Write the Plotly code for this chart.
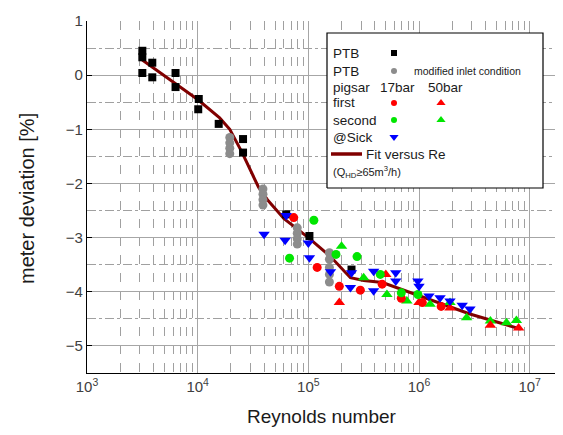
import plotly.graph_objects as go

# ---------------- data ----------------
ptb_re = [3162, 3162, 3162, 3890, 3890, 6310, 6310, 10230, 10120, 15490, 25700, 25700, 63100, 102300, 245500]
ptb_dev = [0.45, 0.33, 0.04, 0.23, -0.04, 0.04, -0.22, -0.44, -0.63, -0.90, -1.18, -1.43, -2.57, -2.97, -3.59]

ptbmod_re = [19500, 19500, 19500, 19500, 38900, 38900, 38900, 38900, 79400, 79400, 79400, 79400,
             155000, 155000, 155000, 155000, 155000]
ptbmod_dev = [-1.15, -1.25, -1.35, -1.45, -2.10, -2.20, -2.30, -2.40, -2.82, -2.92, -3.02, -3.12,
              -3.28, -3.40, -3.55, -3.68, -3.82]

first17_re = [73800, 120200, 190500, 295100, 464500, 691800, 1071500, 1585000]
first17_dev = [-2.63, -3.55, -3.90, -3.97, -3.86, -4.12, -4.20, -4.27]

second17_re = [67600, 112200, 177800, 275400, 446700, 691800, 977200]
second17_dev = [-3.38, -2.68, -3.31, -3.35, -3.68, -4.02, -4.05]

first50_re = [190500, 501200, 1000000, 1905000, 4416000, 7943000]
first50_dev = [-4.20, -3.68, -4.20, -4.30, -4.62, -4.67]

second50_re = [199500, 316200, 512900, 776200, 1259000, 1905000, 2692000, 4416000, 6166000, 7586000]
second50_dev = [-3.16, -3.74, -4.05, -4.17, -4.23, -4.20, -4.48, -4.54, -4.57, -4.53]

sick_re = [39800, 61700, 63100, 100000, 102300, 158500, 239900, 245500, 389000, 389000,
           616600, 616600, 977200, 1000000, 1230000, 1549000, 1905000, 2455000, 2884000]
sick_dev = [-2.94, -3.05, -2.59, -3.10, -3.37, -3.63, -3.92, -3.65, -3.62, -3.98,
            -3.65, -3.80, -3.80, -3.90, -4.08, -4.11, -4.17, -4.25, -4.32]

fit_re = [3162, 10000, 15800, 19500, 25100, 35480, 42660, 60260, 100000, 158500, 239900,
          316200, 467700, 1259000, 2884000, 8318000]
fit_dev = [0.28, -0.45, -0.79, -1.00, -1.42, -2.07, -2.30, -2.65, -3.00, -3.35, -3.74,
           -3.79, -3.83, -4.14, -4.41, -4.69]

x_tickvals = [1e3, 1e4, 1e5, 1e6, 1e7]
x_ticktext = ["10<sup>3</sup>", "10<sup>4</sup>", "10<sup>5</sup>", "10<sup>6</sup>", "10<sup>7</sup>"]
y_tickvals = [1, 0, -1, -2, -3, -4, -5]

RED = "#ff0000"
GREEN = "#00e600"
BLUE = "#0000ff"
GRAY = "#8c8c8c"
FIT = "#800000"
FONT = "Arial, Liberation Sans, sans-serif"

fig = go.Figure()

fig.add_trace(go.Scatter(x=fit_re, y=fit_dev, mode="lines", line=dict(color=FIT, width=3)))
fig.add_trace(go.Scatter(x=ptbmod_re, y=ptbmod_dev, mode="markers",
                         marker=dict(symbol="circle", size=9, color=GRAY)))
fig.add_trace(go.Scatter(x=ptb_re, y=ptb_dev, mode="markers",
                         marker=dict(symbol="square", size=8, color="black")))
fig.add_trace(go.Scatter(x=second50_re, y=second50_dev, mode="markers",
                         marker=dict(symbol="triangle-up", size=10, color=GREEN)))
fig.add_trace(go.Scatter(x=first50_re, y=first50_dev, mode="markers",
                         marker=dict(symbol="triangle-up", size=10, color=RED)))
fig.add_trace(go.Scatter(x=first17_re, y=first17_dev, mode="markers",
                         marker=dict(symbol="circle", size=9, color=RED)))
fig.add_trace(go.Scatter(x=second17_re, y=second17_dev, mode="markers",
                         marker=dict(symbol="circle", size=9, color=GREEN)))
fig.add_trace(go.Scatter(x=sick_re, y=sick_dev, mode="markers",
                         marker=dict(symbol="triangle-down", size=10, color=BLUE)))

# ---------------- custom legend ----------------
# page offset of the plot div (default body margin)
OFF = 8
W, H = 563 - OFF, 435 - OFF
# plot area in page pixels: left 87, right 562, top 21, bottom 373
L, R, T, B = 87, 562, 21, 373
def px(xp):
    return (xp - L) / (R - L)
def py(yp):
    return (B - yp) / (B - T)

# white legend box (trace on overlay axes, so it hides the gridlines)
bx0, bx1, by0, by1 = px(327), px(543), py(188), py(33)
fig.add_trace(go.Scatter(x=[bx0, bx1, bx1, bx0, bx0], y=[by0, by0, by1, by1, by0], mode="lines",
                         fill="toself", fillcolor="white", line=dict(color="black", width=1.2),
                         xaxis="x2", yaxis="y2"))

legend_glyphs = [
    (394, 53, "square", "black", 6),
    (394, 71, "circle", GRAY, 6),
    (394, 103, "circle", RED, 6),
    (441, 103, "triangle-up", RED, 8),
    (394, 120, "circle", GREEN, 6),
    (441, 120, "triangle-up", GREEN, 8),
    (394, 137, "triangle-down", BLUE, 8),
]
for gx, gy, sym, col, sz in legend_glyphs:
    fig.add_trace(go.Scatter(x=[px(gx)], y=[py(gy)], mode="markers", xaxis="x2", yaxis="y2",
                             marker=dict(symbol=sym, size=sz, color=col)))
fig.add_trace(go.Scatter(x=[px(331), px(362)], y=[py(154), py(154)], mode="lines", xaxis="x2", yaxis="y2",
                         line=dict(color=FIT, width=3.5)))

legend_texts = [
    (331, 53, "PTB", 13.5),
    (331, 71, "PTB", 13.5),
    (331, 87, "pigsar", 13.5),
    (378, 87, "17bar", 13.5),
    (426, 87, "50bar", 13.5),
    (331, 103, "first", 13.5),
    (331, 120, "second", 13.5),
    (331, 137, "@Sick", 13.5),
    (364, 154, "Fit versus Re", 13.5),
    (412, 71, "modified inlet condition", 10.5),
    (331, 172, "(Q<sub>HD</sub>≥65m<sup>3</sup>/h)", 11),
]
for tx, ty, txt, fs in legend_texts:
    fig.add_annotation(x=px(tx), y=py(ty), xref="paper", yref="paper", text=txt, showarrow=False,
                       xanchor="left", yanchor="middle", font=dict(family=FONT, size=fs, color="#1a1a1a"))

# axis titles
fig.add_annotation(x=px(322), y=py(416), xref="paper", yref="paper", text="Reynolds number",
                   showarrow=False, xanchor="center", yanchor="middle",
                   font=dict(family=FONT, size=19, color="#1a1a1a"))
fig.add_annotation(x=px(27), y=py(199), xref="paper", yref="paper", text="meter deviation [%]",
                   showarrow=False, xanchor="center", yanchor="middle", textangle=-90,
                   font=dict(family=FONT, size=20, color="#1a1a1a"))

fig.update_layout(
    width=W, height=H,
    margin=dict(l=L - OFF, r=W - (R - OFF), t=T - OFF, b=H - (B - OFF), autoexpand=False),
    paper_bgcolor="white", plot_bgcolor="white",
    showlegend=False,
    font=dict(family=FONT, color="#333333"),
    xaxis=dict(
        type="log", range=[3, 7.292], tickmode="array", tickvals=x_tickvals, ticktext=x_ticktext,
        tickfont=dict(size=15, color="#404040"), automargin=False,
        showgrid=True, gridcolor="#a6a6a6", gridwidth=1.2,
        minor=dict(showgrid=True, dtick="D1", gridcolor="#a0a0a0", gridwidth=1, griddash="dash"),
        showline=True, linecolor="black", linewidth=1.2, zeroline=False, ticks="",
    ),
    yaxis=dict(
        range=[-5.5, 1], tickmode="array", tickvals=y_tickvals,
        tickfont=dict(size=15, color="#404040"), automargin=False,
        showgrid=True, gridcolor="#a6a6a6", gridwidth=1.2,
        minor=dict(showgrid=True, dtick=0.5, tick0=0.5, gridcolor="#a0a0a0", gridwidth=1, griddash="dashdot"),
        showline=True, linecolor="black", linewidth=1.2, zeroline=False,
        ticks="inside", ticklen=5, tickcolor="black",
    ),
    xaxis2=dict(overlaying="x", range=[0, 1], visible=False, fixedrange=True),
    yaxis2=dict(overlaying="y", range=[0, 1], visible=False, fixedrange=True),
)

fig.write_html("out.html")
